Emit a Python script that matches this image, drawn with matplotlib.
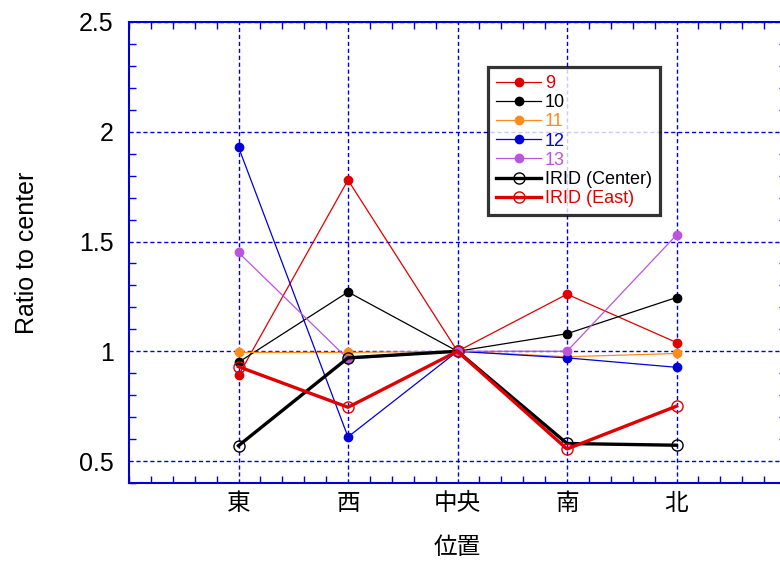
import numpy as np
import matplotlib.pyplot as plt
from matplotlib.ticker import MultipleLocator

plt.rcParams['font.family'] = ['Liberation Sans', 'Noto Sans CJK JP']

# data
positions = ['東', '西', '中央', '南', '北']
s9 = [0.89, 1.78, 1.00, 1.26, 1.04]
s10 = [0.95, 1.27, 1.00, 1.08, 1.245]
s11 = [0.995, 0.995, 1.00, 0.975, 0.99]
s12 = [1.93, 0.61, 1.00, 0.97, 0.927]
s13 = [1.45, 0.965, 1.00, 1.00, 1.53]
irid_center = [0.57, 0.97, 1.00, 0.58, 0.572]
irid_east = [0.93, 0.745, 1.00, 0.555, 0.75]

x = np.arange(1, len(positions) + 1)
blue = '#0000dd'

fig = plt.figure(figsize=(7.8, 5.63), dpi=100)
ax = fig.add_axes([129 / 780, 1 - 483 / 563, 657 / 780, 461 / 563])

thin = [('9', s9, '#e00000'), ('10', s10, 'black'), ('11', s11, '#ff8c1a'),
        ('12', s12, '#0000dd'), ('13', s13, '#bb55dd')]
for name, vals, c in thin:
    ax.plot(x, vals, '-o', color=c, lw=0.9, ms=6, label=name)

ax.plot(x, irid_center, '-o', color='black', lw=2.4, ms=8, mfc='none',
        mew=1.0, label='IRID (Center)')
ax.plot(x, irid_east, '-o', color='#e00000', lw=2.4, ms=8, mfc='none',
        mew=1.0, label='IRID (East)')

ax.set_xlim(0, 6)
ax.set_ylim(0.4, 2.5)
ax.set_xticks(x)
ax.set_xticklabels(positions, fontsize=17)
ax.xaxis.set_minor_locator(MultipleLocator(0.2))
ax.set_yticks([0.5, 1, 1.5, 2, 2.5])
ax.set_yticklabels(['0.5', '1', '1.5', '2', '2.5'], fontsize=18)
ax.yaxis.set_minor_locator(MultipleLocator(0.1))

ax.tick_params(which='both', direction='in', top=True, right=True,
               color=blue, width=1)
ax.tick_params(which='major', length=0)
ax.tick_params(which='minor', length=5)
ax.tick_params(axis='x', which='major', pad=7)
ax.tick_params(axis='y', which='major', pad=11)

for sp in ax.spines.values():
    sp.set_color(blue)
    sp.set_linewidth(1.5)

ax.grid(True, which='major', color=blue, linestyle=(0, (3, 2)), lw=1)

ax.set_xlabel('位置', fontsize=17, labelpad=16)
ax.set_ylabel('Ratio to center', fontsize=18, labelpad=29)

leg = ax.legend(loc='upper left', bbox_to_anchor=(359 / 657, 1 - 45 / 461),
                borderaxespad=0, fontsize=13, frameon=True, fancybox=False,
                handlelength=2.5, borderpad=0.45, labelspacing=0.12,
                handletextpad=0.2)
leg.get_frame().set_edgecolor('black')
leg.get_frame().set_linewidth(2.3)
for txt, line in zip(leg.get_texts(), leg.get_lines()):
    txt.set_color(line.get_color())

fig.savefig('out.png', dpi=100)
